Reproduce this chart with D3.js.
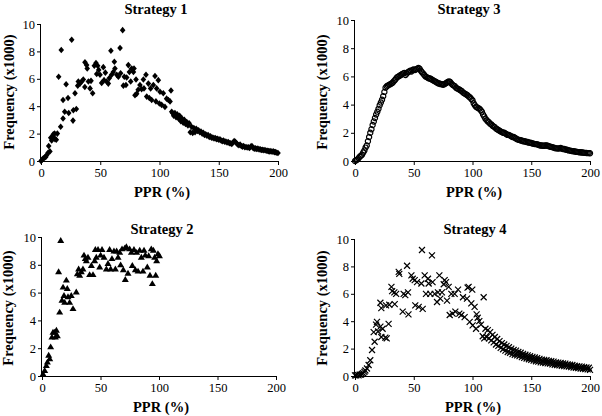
<!DOCTYPE html>
<html><head><meta charset="utf-8">
<script src="https://cdn.jsdelivr.net/npm/d3@7"></script>
<style>
html,body{margin:0;padding:0;background:#fff;}
svg{display:block;}
svg text{font-family:"Liberation Serif","Tinos","Times New Roman","DejaVu Serif",serif !important;fill:#000;}
</style></head>
<body>
<svg id="c" width="602" height="416"></svg>
<script>
// ---- data ----
const titles = ["Strategy 1","Strategy 2","Strategy 3","Strategy 4"];
const xTicks = [0,50,100,150,200];
const yTicks = [0,2,4,6,8,10];
const xLabel = "PPR (%)";
const yLabel = "Frequency (x1000)";

const strategy1 = [[0,0],[1,0.1],[2,0.2],[3,0.25],[4,0.3],[5,0.45],[6,0.6],[6.5,1.1],[7.5,0.7],[8.2,1.7],[9,1.5],[10.1,1.8],[10.4,1.95],[11.5,2.0],[11.8,1.6],[12.9,1.55],[13.8,2.0],[14.9,6.15],[16.6,2.5],[17.1,8.1],[18.6,3.1],[18.6,4.45],[20,3.6],[21.2,5.6],[22.8,4.6],[23.4,3.5],[25.9,8.85],[27,2.95],[27.3,3.7],[28.7,4.95],[29.8,3.8],[31,5.5],[31.5,5.8],[32.9,5.65],[34.3,5.8],[35.7,5.95],[37,5.4],[37.1,7.2],[38.5,7.0],[39,6.75],[40,5.8],[41.4,5.3],[42.2,5.85],[43.6,4.95],[45,6.95],[46.4,7.15],[47,6.35],[47.8,6.95],[48.7,6.65],[49.8,6.3],[51.2,5.7],[52.6,6.85],[53.2,5.9],[54.3,6.45],[55.4,5.8],[56.8,5.65],[57.7,6.05],[59,8.05],[59.6,6.3],[61,6.5],[61.9,7.25],[62.4,6.75],[63.9,6.3],[65.3,6.15],[66.7,8.25],[67.2,6.4],[68.9,9.55],[69.5,5.5],[70.3,6.15],[71.7,5.55],[72.3,6.1],[73.7,7.0],[74.6,6.5],[75.7,5.8],[76.5,6.75],[78,6.5],[78.5,6.75],[79.3,4.8],[80.2,5.95],[80.7,4.9],[82,5.2],[83.5,5.55],[84.9,5.25],[86.4,5.95],[86.9,5.3],[88.6,6.3],[89.2,4.7],[90.6,5.65],[91.4,4.6],[92.5,5.3],[93.4,4.45],[94.8,5.55],[96.2,6.2],[97,4.35],[97.6,5.3],[99,5.9],[99.9,4.2],[100.4,5.05],[101.8,4.1],[103.2,4.95],[104.6,3.95],[106,4.55],[107.5,4.45],[108.9,4.35],[109.7,5.15],[110.3,3.6],
[111,3.5],[112,3.3],[113,3.5],[114,3.2],[115,3.4],[116,3.1],[117,3.3],[118,2.9],[119,3.1],[120,2.8],[121,3.0],[122,2.7],[123,2.85],[124,2.6],[125,2.75],[126,2.1],[127,2.5],[128,2.05],[129,2.4],[130,2.1],[131,2.35],[132,2.2],[133,2.25],[134,2.1],[135,2.15],[136,2.0],[137,2.05],[138,1.9],[139,1.95],[140,1.85],[141,1.9],[142,1.75],[143,1.8],[144,1.7],[145,1.72],[146,1.65],[147,1.68],[148,1.6],[149,1.62],[150,1.55],[151,1.58],[152,1.5],[153,1.45],[154,1.5],[155,1.4],[156,1.42],[157,1.35],[158,1.38],[159,1.3],[160,1.3],[161,1.25],[162,1.35],[163,1.45],[164,1.4],[165,1.3],[166,1.2],[167,1.15],[168,1.2],[169,1.1],[170,1.05],[171,1.1],[172,1.0],[173,1.02],[174,0.98],[175,1.0],[176,0.95],[177,1.05],[178,1.1],[179,0.95],[180,0.9],[181,0.92],[182,0.88],[183,0.9],[184,0.85],[185,0.85],[186,0.8],[187,0.82],[188,0.78],[189,0.8],[190,0.75],[191,0.75],[192,0.72],[193,0.7],[194,0.72],[195,0.68],[196,0.7],[197,0.65],[198,0.65],[199,0.6],[200,0.58]];

const strategy2 = [[0.9,0.15],[2.3,0.4],[3.7,0.75],[4.6,1.0],[5.7,1.5],[6.6,1.25],[7.4,2.1],[8.5,2.8],[9.4,3.15],[10.8,3.15],[11.4,2.8],[12.3,3.3],[13.1,2.9],[14.2,7.5],[15.1,4.6],[16,9.75],[17.1,5.45],[18,6.4],[18.8,5.8],[19.4,5.3],[20.8,6.9],[21.6,6.3],[22.2,5.7],[23.6,5.3],[25,5.8],[26.5,4.85],[29.3,6.05],[30.2,7.35],[31.3,7.7],[32.2,7.25],[33.6,7.5],[35,7.7],[35.9,8.7],[37,8.45],[37.9,8.3],[39.3,8.55],[40.7,7.3],[42.2,7.95],[43.6,7.3],[45,8.3],[45.6,9.1],[46.4,8.55],[47.9,9.1],[49.3,7.85],[50.1,8.7],[51.3,9.1],[53,8.55],[55,7.7],[56.4,8.1],[57.8,9.1],[58.7,7.7],[59.8,8.45],[61.5,9.0],[62.7,7.7],[63.8,9.0],[65,8.55],[66.4,8.9],[67.2,8.0],[68.4,9.15],[69.5,7.65],[70.7,9.2],[71.2,6.95],[72.1,9.3],[73.5,7.4],[74.9,9.15],[76.4,8.9],[77.2,7.95],[78.6,9.1],[79.8,7.65],[80.9,8.9],[82.1,7.55],[83.5,9.05],[84.9,8.55],[86.3,7.55],[87.2,9.05],[88.3,8.7],[90,7.85],[91.2,8.65],[92.3,7.25],[93.4,9.15],[94.3,6.65],[95.2,9.05],[96.3,8.55],[97.2,7.25],[98,8.3],[99.1,8.8],[100.4,8.65]];

const strategy3 = [[0,0.0],[1,0.05],[2,0.1],[3,0.2],[4,0.3],[5,0.38],[6,0.45],[7,0.6],[8,0.75],[9,0.95],[10,1.1],[11,1.4],[12,1.7],[13,2.0],[14,2.25],[15,2.55],[16,2.8],[17,3.05],[18,3.3],[19,3.5],[20,3.7],[21,3.95],[22,4.15],[23,4.35],[24,4.6],[25,4.9],[26,5.2],[27,5.3],[28,5.35],[29,5.4],[30,5.45],[31,5.5],[32,5.55],[33,5.65],[34,5.75],[35,5.85],[36,5.95],[37,6.0],[38,6.05],[39,6.1],[40,6.15],[41,6.2],[42,6.25],[43,6.1],[44,6.2],[45,6.3],[46,6.35],[47,6.4],[48,6.35],[49,6.45],[50,6.5],[51,6.45],[52,6.5],[53,6.55],[54,6.6],[55,6.55],[56,6.4],[57,6.3],[58,6.2],[59,6.1],[60,6.0],[61,5.95],[62,5.9],[63,5.85],[64,5.85],[65,5.8],[66,5.75],[67,5.7],[68,5.65],[69,5.6],[70,5.55],[71,5.5],[72,5.5],[73,5.45],[74,5.45],[75,5.4],[76,5.45],[77,5.5],[78,5.55],[79,5.6],[80,5.65],[81,5.6],[82,5.5],[83,5.4],[84,5.35],[85,5.3],[86,5.2],[87,5.15],[88,5.1],[89,5.05],[90,5.0],[91,4.95],[92,4.85],[93,4.8],[94,4.75],[95,4.7],[96,4.65],[97,4.55],[98,4.5],[99,4.4],[100,4.3],[101,4.1],[102,3.95],[103,3.85],[104,3.8],[105,3.75],[106,3.7],[107,3.6],[108,3.5],[109,3.3],[110,3.15],[111,3.0],[112,2.9],[113,2.8],[114,2.75],[115,2.65],[116,2.6],[117,2.5],[118,2.45],[119,2.4],[120,2.3],[121,2.25],[122,2.2],[123,2.15],[124,2.1],[125,2.05],[126,2.0],[127,2.0],[128,1.95],[129,1.9],[130,1.85],[131,1.85],[132,1.8],[133,1.75],[134,1.7],[135,1.7],[136,1.65],[137,1.6],[138,1.55],[139,1.5],[140,1.5],[141,1.45],[142,1.45],[143,1.4],[144,1.4],[145,1.38],[146,1.35],[147,1.35],[148,1.3],[149,1.3],[150,1.28],[151,1.25],[152,1.22],[153,1.2],[154,1.2],[155,1.18],[156,1.15],[157,1.12],[158,1.1],[159,1.1],[160,1.08],[161,1.08],[162,1.1],[163,1.1],[164,1.08],[165,1.05],[166,1.02],[167,1.0],[168,0.98],[169,0.95],[170,0.92],[171,0.9],[172,0.9],[173,0.88],[174,0.9],[175,0.92],[176,0.88],[177,0.85],[178,0.85],[179,0.82],[180,0.8],[181,0.78],[182,0.75],[183,0.74],[184,0.72],[185,0.7],[186,0.7],[187,0.68],[188,0.66],[189,0.65],[190,0.63],[191,0.62],[192,0.62],[193,0.6],[194,0.6],[195,0.58],[196,0.58],[197,0.57],[198,0.56],[199,0.56],[200,0.55]];

const strategy4 = [[0,0.05],[1,0.05],[2,0.1],[3,0.05],[4,0.1],[5,0.1],[6,0.15],[7,0.2],[8,0.3],[8.8,0.4],[10.2,0.55],[11.6,0.8],[13,1.15],[14.5,1.9],[15.9,3.2],[16.7,2.5],[17.9,3.75],[18.7,3.95],[19.6,3.25],[21.6,3.6],[22.4,2.85],[23.5,3.45],[25.8,2.8],[27,2.75],[28.6,3.8],[21.6,5.35],[22.4,4.95],[26.4,5.15],[29.2,5.2],[33.8,5.25],[31,6.5],[31.6,6.2],[33.5,6.1],[35,6.0],[37.2,7.6],[37.7,7.45],[40.6,4.7],[41.4,6.0],[42.8,5.9],[44.3,8.05],[45.1,6.1],[45.5,4.5],[48,7.35],[49.1,7.1],[50.8,7.0],[51.3,5.15],[52.8,6.85],[54.2,5.05],[56.5,6.75],[57,9.2],[57.6,4.9],[59.3,7.35],[60.4,6.0],[62.1,7.1],[62.7,6.75],[64.1,6.0],[65.5,8.8],[66,6.85],[67.8,6.0],[69.8,5.4],[70.6,6.1],[71.8,7.35],[72.6,5.65],[74,6.1],[75.5,6.7],[76.3,7.0],[77.5,6.85],[78.3,5.5],[79.7,6.5],[80.6,4.45],[82,6.0],[83.1,4.55],[84.8,6.0],[85.4,4.7],[87.7,6.3],[88.8,4.55],[90.5,4.45],[91.9,5.75],[93.3,4.3],[95.3,5.65],[95.8,6.45],[96.7,6.5],[97.6,3.95],[99,5.3],[99.8,6.3],[100.1,3.7],[101.8,5.05],[103,3.45],[103.5,4.5],[104.4,4.25],[105.8,4.0],[107.2,3.75],[108.7,2.9],[109.5,5.75],[110,2.75],
[111,3.45],[112,2.85],[113,3.35],[114,2.75],[115,3.2],[116,2.6],[117,3.0],[118,2.45],[119,2.85],[120,2.3],[121,2.7],[122,2.2],[123,2.55],[124,2.05],[125,2.4],[126,1.95],[127,2.3],[128,1.85],[129,2.2],[130,1.75],[131,2.1],[132,1.7],[133,2.0],[134,1.6],[135,1.9],[136,1.55],[137,1.85],[138,1.5],[139,1.75],[140,1.45],[141,1.7],[142,1.38],[143,1.62],[144,1.32],[145,1.55],[146,1.28],[147,1.5],[148,1.22],[149,1.45],[150,1.18],[151,1.4],[152,1.12],[153,1.35],[154,1.08],[155,1.3],[156,1.05],[157,1.25],[158,1.0],[159,1.2],[160,0.98],[161,1.18],[162,0.95],[163,1.15],[164,0.92],[165,1.1],[166,0.9],[167,1.08],[168,0.85],[169,1.05],[170,0.82],[171,1.0],[172,0.8],[173,0.98],[174,0.78],[175,0.95],[176,0.75],[177,0.92],[178,0.72],[179,0.9],[180,0.7],[181,0.85],[182,0.68],[183,0.82],[184,0.65],[185,0.8],[186,0.62],[187,0.75],[188,0.6],[189,0.72],[190,0.58],[191,0.7],[192,0.55],[193,0.68],[194,0.52],[195,0.65],[196,0.5],[197,0.62],[198,0.48],[199,0.6],[200,0.45]];

// ---- layout ----
const FONT = '"Liberation Serif","Tinos","Times New Roman","DejaVu Serif",serif';
const panels = [
  {title:titles[0], data:strategy1, marker:"diamond",  x0:41,  x1:278, y0:161, y1:24,  tx:156, ty:14,  xlx:162, xly:197, ylx:14,  yly:92},
  {title:titles[2], data:strategy3, marker:"circle",   x0:355, x1:590, y0:161, y1:20,  tx:469, ty:14,  xlx:474, xly:197, ylx:327, yly:92},
  {title:titles[1], data:strategy2, marker:"triangle", x0:42,  x1:276, y0:376, y1:237, tx:162, ty:234, xlx:161, xly:412, ylx:13,  yly:308},
  {title:titles[3], data:strategy4, marker:"cross",    x0:355, x1:590, y0:376, y1:239, tx:475, ty:234, xlx:473, xly:412, ylx:327, yly:308}
];

const svg = d3.select("#c");

panels.forEach(p => {
  const x = d3.scaleLinear().domain([0,200]).range([p.x0,p.x1]);
  const y = d3.scaleLinear().domain([0,10]).range([p.y0,p.y1]);
  const g = svg.append("g");

  const xa = g.append("g").attr("transform",`translate(0,${p.y0})`)
    .call(d3.axisBottom(x).tickValues(xTicks).tickSize(4).tickPadding(3).tickFormat(d3.format("d")));
  const ya = g.append("g").attr("transform",`translate(${p.x0},0)`)
    .call(d3.axisLeft(y).tickValues(yTicks).tickSize(4).tickPadding(2).tickFormat(d3.format("d")));
  [xa,ya].forEach(a => {
    a.attr("font-family", FONT).attr("font-size", 12.5);
    a.select(".domain").attr("stroke","#000").attr("stroke-width",1);
    a.selectAll(".tick line").attr("stroke","#000");
    a.selectAll(".tick text").attr("fill","#000");
  });
  xa.select(".domain").attr("d",`M${p.x0},0.5H${p.x1}`);
  ya.select(".domain").attr("d",`M-0.5,${p.y0}V${p.y1}`);

  const pts = g.append("g");
  const sel = pts.selectAll("path").data(p.data).enter().append("path")
    .attr("transform", d => `translate(${x(d[0])},${y(d[1])})`);
  if (p.marker === "diamond") {
    sel.attr("d","M0,-3.3L2.8,0L0,3.3L-2.8,0Z").attr("fill","#000");
  } else if (p.marker === "triangle") {
    sel.attr("d","M0,-3.4L3.5,2.5L-3.5,2.5Z").attr("fill","#000");
  } else if (p.marker === "circle") {
    sel.attr("d", d3.symbol().type(d3.symbolCircle).size(21)()).attr("fill","none").attr("stroke","#000").attr("stroke-width",1.2);
  } else {
    sel.attr("d","M-3,-3L3,3M-3,3L3,-3").attr("fill","none").attr("stroke","#000").attr("stroke-width",1.2);
  }

  const lab = (t) => t.attr("font-family", FONT).attr("font-size", 14.5).attr("font-weight","bold").attr("text-anchor","middle");
  lab(g.append("text").attr("x",p.tx).attr("y",p.ty)).text(p.title);
  lab(g.append("text").attr("x",p.xlx).attr("y",p.xly)).text(xLabel);
  lab(g.append("text").attr("transform",`translate(${p.ylx},${p.yly}) rotate(-90)`)).text(yLabel);
});
</script>
</body></html>
